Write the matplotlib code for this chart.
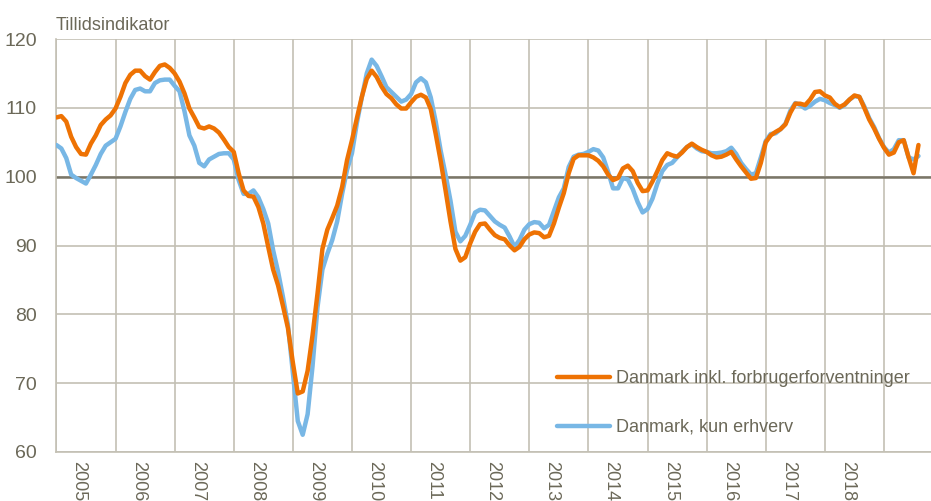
import matplotlib
matplotlib.use("Agg")
from matplotlib import pyplot as plt
from matplotlib.transforms import blended_transform_factory
from numpy import arange

# monthly index, jan 2005 .. aug 2019
incl_forbruger = [
    108.6, 108.8, 108.0, 105.8, 104.3, 103.3, 103.2, 104.8, 106.0, 107.5, 108.3, 108.9,
    109.9, 111.6, 113.6, 114.8, 115.4, 115.4, 114.6, 114.1, 115.2, 116.1, 116.3, 115.8,
    115.0, 113.8, 112.1, 109.9, 108.6, 107.2, 107.0, 107.3, 107.0, 106.4, 105.4, 104.3,
    103.6, 100.5, 98.0, 97.2, 97.1, 95.6, 93.2, 89.8, 86.5, 84.2, 81.2, 78.0,
    73.0, 68.5, 68.8, 71.8, 77.0, 83.0, 89.5, 92.3, 94.0, 95.8, 98.5, 102.4,
    105.3, 108.5, 111.6, 114.2, 115.4, 114.5, 113.1, 112.0, 111.4, 110.5, 109.9, 109.9,
    110.8, 111.6, 111.9, 111.5, 109.8, 106.2, 102.3, 98.0, 93.5, 89.5, 87.8, 88.3,
    90.3, 92.0, 93.1, 93.2, 92.3, 91.5, 91.1, 90.9, 90.0, 89.3, 89.8, 90.9,
    91.6, 91.9, 91.8, 91.2, 91.4, 93.2, 95.5, 97.6, 100.5, 102.6, 103.1, 103.1,
    103.1, 102.8, 102.3, 101.5, 100.3, 99.5, 99.8, 101.2, 101.6, 100.8, 99.1, 97.9,
    98.0, 99.3, 100.8, 102.4, 103.4, 103.1, 102.9, 103.5, 104.3, 104.8, 104.3, 103.9,
    103.6, 103.1, 102.8, 102.9, 103.2, 103.6, 102.5, 101.5, 100.6, 99.7, 99.8, 102.0,
    105.0, 106.0, 106.5, 106.9, 107.6, 109.3, 110.6, 110.6, 110.4, 111.2, 112.3, 112.4,
    111.8, 111.5, 110.6, 110.1, 110.5, 111.2, 111.8, 111.6, 110.0, 108.3, 107.0, 105.5,
    104.2, 103.2, 103.5, 105.0, 105.3, 102.8, 100.5, 104.6,
]

kun_erhverv = [
    104.6, 104.1, 102.7, 100.3, 99.8, 99.4, 99.0, 100.3, 101.7, 103.3, 104.5, 105.0,
    105.5, 107.3, 109.4, 111.3, 112.6, 112.8, 112.4, 112.4, 113.6, 114.0, 114.1, 114.1,
    113.2, 112.4, 109.5, 106.0, 104.5, 102.0, 101.5, 102.5, 102.9, 103.3, 103.4, 103.4,
    102.5, 99.5, 97.5, 97.5, 98.0, 97.0, 95.3, 93.2, 89.3, 86.2, 82.5, 78.5,
    71.5, 64.5, 62.5, 65.5, 72.5, 81.0, 86.5, 88.8, 90.8, 93.5, 97.5, 101.0,
    103.4, 107.8, 111.5, 115.0, 117.0, 116.1, 114.6, 113.0, 112.3, 111.6, 110.9, 111.2,
    112.0, 113.7, 114.3, 113.7, 111.5, 108.0, 103.8, 100.3, 96.5, 92.0, 90.6, 91.4,
    93.0, 94.8, 95.2, 95.1, 94.3, 93.5, 93.0, 92.6, 91.3, 89.8, 90.8, 92.3,
    93.1, 93.4, 93.3, 92.5, 93.0, 95.0, 97.0, 98.3, 101.4, 102.9, 103.2, 103.3,
    103.6, 104.0, 103.8, 102.8, 100.7, 98.3, 98.3, 99.8, 99.6, 98.2, 96.3, 94.8,
    95.3, 96.8, 99.0, 100.8, 101.7, 102.0, 102.8, 103.6, 104.3, 104.7, 104.1, 103.7,
    103.6, 103.4, 103.4, 103.5, 103.7, 104.2, 103.3, 102.0, 101.1, 100.3, 100.5, 102.8,
    105.2, 106.2, 106.3, 106.9, 107.7, 109.6, 110.7, 110.4, 109.9, 110.3, 110.9, 111.3,
    111.1, 110.7, 110.4, 110.0, 110.4, 111.2, 111.7, 111.6, 110.2, 108.5, 107.2, 105.6,
    104.3, 103.5, 104.0, 105.3, 105.3, 102.8, 102.5, 103.0,
]

years = list(range(2005, 2019))
y_ticks = [60, 70, 80, 90, 100, 110, 120]

text_colour = "#6b6858"
grid_colour = "#c3c0b4"
orange = "#ee7203"
blue = "#78b7e5"
fs = 13

plt.rcParams['font.family'] = ['Liberation Sans', 'DejaVu Sans']

fig = plt.figure(figsize=(9.31, 5.01), dpi=100)
ax = fig.add_axes([56.4 / 931, 1 - 452 / 501, 1 - 56.4 / 931, (452 - 39) / 501])

months = arange(len(incl_forbruger))
ax.plot(months, incl_forbruger, color=orange, lw=3.2, solid_capstyle='round',
        label="Danmark inkl. forbrugerforventninger", zorder=4)
ax.plot(months, kun_erhverv, color=blue, lw=3.2, solid_capstyle='round',
        label="Danmark, kun erhverv", zorder=3)

ax.set_ylim(60, 120)
ax.set_xlim(0, (931 - 56.6) / 4.925)
ax.set_yticks(y_ticks)
ax.set_xticks([12 * i for i in range(15)])
ax.set_xticklabels([])
ax.grid(True, color=grid_colour, lw=1.2)
ax.axhline(100, color="#7a7668", lw=1.8, zorder=2)
ax.set_axisbelow(True)

for side in ['top', 'right']:
    ax.spines[side].set_visible(False)
for side in ['left', 'bottom']:
    ax.spines[side].set_color(grid_colour)
    ax.spines[side].set_linewidth(1.2)

ax.tick_params(axis='both', length=0, colors=text_colour, labelsize=fs + 1)
ax.tick_params(axis='y', pad=14)

# year labels sit just below the axis, cut by the figure edge as in the source
trans = blended_transform_factory(ax.transData, ax.transAxes)
for i, yr in enumerate(years):
    ax.text(12 * i + 4.6, -9 / 413, str(yr), transform=trans, rotation=-90,
            ha='center', va='top', fontsize=fs, color=text_colour, clip_on=False)

fig.text(56 / 931, 1 - 30 / 501, "Tillidsindikator", fontsize=fs,
         color=text_colour, va='baseline', ha='left')

leg = ax.legend(loc='upper left', bbox_to_anchor=((550 - 56.4) / (931 - 56.4), (452 - 363) / 413),
                frameon=False, fontsize=fs, handlelength=2.9, handletextpad=0.35,
                labelspacing=1.75, borderaxespad=0)
for t in leg.get_texts():
    t.set_color(text_colour)

fig.savefig("out.png", dpi=100)
